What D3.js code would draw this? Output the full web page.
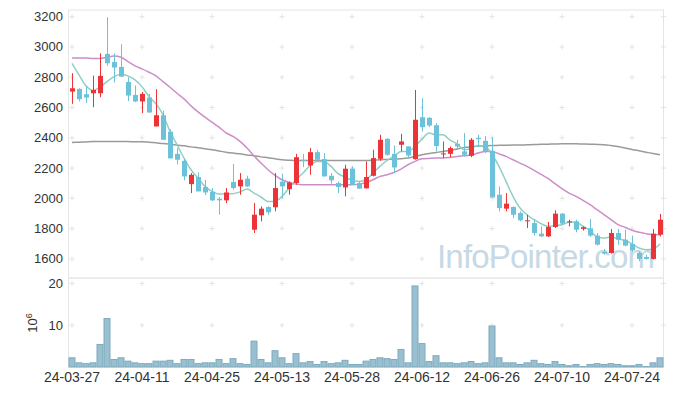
<!DOCTYPE html>
<html>
<head>
<meta charset="utf-8">
<script src="https://cdn.jsdelivr.net/npm/d3@7/dist/d3.min.js"></script>
<style>
  body { margin: 0; background: #fff; }
  svg { display: block; font-family: "Liberation Sans", Arial, sans-serif; }
</style>
</head>
<body>
<svg id="chart" width="673" height="396"></svg>
<script>
// trading days (KRX), 2024-03-27 .. 2024-07-30
const tradingDays = [
  ["03", [27, 28, 29]],
  ["04", [1, 2, 3, 4, 5, 8, 9, 11, 12, 15, 16, 17, 18, 19, 22, 23, 24, 25, 26, 29, 30]],
  ["05", [2, 3, 7, 8, 9, 10, 13, 14, 16, 17, 20, 21, 22, 23, 24, 27, 28, 29, 30, 31]],
  ["06", [3, 4, 5, 7, 10, 11, 12, 13, 14, 17, 18, 19, 20, 21, 24, 25, 26, 27, 28]],
  ["07", [1, 2, 3, 4, 5, 8, 9, 10, 11, 12, 15, 16, 17, 18, 19, 22, 23, 24, 25, 26, 29, 30]]
];
const dates = tradingDays.flatMap(([m, ds]) => ds.map(d => "24-" + m + "-" + String(d).padStart(2, "0")));

const open = [2705,2723,2688,2694,2694,2954,2901,2868,2769,2683,2640,2666,2475,2549,2440,2294,2248,2094,2141,2075,
  2042,1998,1987,2108,2079,2130,1793,1888,1943,1941,2110,2061,2101,2255,2217,2305,2259,2149,2101,2072,
  2196,2101,2066,2149,2261,2393,2294,2354,2343,2259,2536,2532,2483,2290,2294,2360,2310,2281,2400,2380,
  2314,2024,1932,1943,1903,1850,1837,1767,1749,1811,1899,1844,1848,1798,1802,1754,1646,1639,1771,1727,
  1699,1639,1613,1600,1760];
const high = [2826,2727,2743,2811,2958,3196,2958,3018,2800,2745,2703,2690,2721,2580,2457,2332,2259,2167,2171,2123,
  2068,2009,2068,2228,2167,2149,1969,1947,1947,2167,2163,2112,2294,2294,2332,2321,2299,2167,2112,2222,
  2211,2112,2244,2321,2420,2398,2349,2426,2343,2716,2661,2536,2497,2376,2343,2387,2431,2398,2420,2413,
  2404,2079,2035,1947,1914,1892,1864,1815,1844,1921,1903,1859,1859,1815,1864,1771,1666,1798,1798,1793,
  1754,1650,1628,1798,1897];
const low = [2624,2640,2629,2602,2668,2875,2765,2800,2642,2635,2563,2567,2475,2387,2264,2224,2119,2035,2046,2022,
  1982,1892,1969,2057,2024,2075,1771,1848,1892,1914,2002,2024,2090,2206,2156,2244,2145,2097,2035,2013,
  2090,2064,2066,2145,2248,2281,2167,2310,2272,2255,2442,2470,2310,2266,2272,2321,2277,2272,2340,2299,
  2006,1914,1914,1870,1848,1804,1754,1745,1745,1804,1826,1815,1776,1787,1745,1688,1628,1635,1694,1683,
  1646,1585,1596,1596,1749];
const close = [2727,2655,2666,2716,2809,2892,2864,2804,2679,2640,2690,2567,2549,2387,2264,2255,2145,2156,2046,2039,
  1987,1987,2039,2068,2123,2079,1892,1932,1908,2068,2079,2105,2272,2246,2305,2255,2145,2119,2075,2196,
  2090,2064,2141,2266,2387,2288,2204,2376,2283,2519,2470,2481,2345,2297,2332,2343,2288,2387,2391,2310,
  2006,1936,1965,1892,1855,1855,1771,1749,1811,1899,1833,1848,1793,1809,1754,1694,1635,1771,1727,1688,
  1657,1600,1600,1767,1859];

// volume, millions of shares
const volume = [2.2,1.0,0.8,1.0,5.4,11.6,1.8,2.2,1.4,1.0,0.8,0.8,1.4,1.4,1.6,0.8,1.8,1.8,0.8,1.0,
  1.0,1.8,0.8,2.0,0.8,0.6,6.2,1.8,1.0,3.9,2.2,0.8,3.2,1.0,1.3,0.6,1.3,0.8,1.0,1.6,
  0.6,0.6,1.4,1.8,2.2,2.0,1.8,4.2,1.0,19.4,5.6,1.3,2.7,1.0,1.0,0.8,1.0,1.3,0.8,1.0,
  9.8,2.2,1.0,1.0,0.6,1.0,1.6,0.8,0.6,1.3,0.6,0.3,0.6,0.1,0.6,0.8,0.6,0.8,0.6,0.3,
  0.3,0.6,0.1,1.0,2.2];

// moving averages
const ma5 = [2892,2815,2743,2712,2734,2771,2804,2820,2809,2782,2738,2672,2624,2552,2442,2354,2266,2189,2134,2079,
  2046,2028,2030,2031,2042,2061,2035,2009,1980,1980,2013,2068,2123,2167,2217,2244,2244,2211,2163,2141,
  2119,2112,2123,2167,2211,2250,2277,2310,2310,2343,2391,2431,2420,2420,2385,2360,2321,2329,2348,2344,
  2290,2211,2112,2013,1936,1892,1859,1833,1815,1820,1826,1842,1842,1815,1789,1745,1738,1745,1732,1723,
  1699,1672,1661,1666,1699];
const ma20 = [2927,2927,2927,2923,2923,2932,2941,2932,2903,2875,2855,2833,2809,2771,2734,2694,2657,2611,2571,2536,
  2503,2470,2433,2409,2376,2332,2281,2233,2189,2152,2123,2105,2094,2090,2090,2090,2090,2090,2090,2090,
  2090,2094,2105,2123,2145,2156,2171,2193,2222,2244,2261,2264,2266,2266,2270,2277,2281,2286,2299,2310,
  2310,2294,2277,2255,2233,2211,2185,2158,2132,2097,2064,2035,2013,1987,1958,1925,1892,1859,1826,1809,
  1789,1776,1767,1760,1760];
const ma120 = [2369,2371,2373,2375,2376,2376,2376,2375,2375,2374,2374,2371,2367,2362,2358,2352,2347,2340,2334,2327,
  2321,2313,2305,2299,2294,2287,2281,2274,2268,2261,2255,2252,2250,2250,2250,2250,2250,2250,2250,2250,
  2250,2250,2250,2252,2255,2257,2259,2262,2266,2277,2288,2296,2303,2310,2316,2326,2336,2341,2345,2347,
  2349,2350,2351,2352,2352,2354,2355,2357,2358,2359,2360,2360,2360,2359,2358,2356,2354,2349,2343,2333,
  2323,2314,2305,2296,2288];

const priceTicks = [1600, 1800, 2000, 2200, 2400, 2600, 2800, 3000, 3200];
const volTicks = [10, 20];
const dateTickEvery = 10;

const upColor = "#ec3338", downColor = "#6bc2d9";

const svg = d3.select("#chart");
const left = 68.5, right = 663.5;
const pTop = 10, pBottom = 278, vTop = 278, vBottom = 367;

const x = d3.scaleBand().domain(dates).range([left, right]).padding(0);
const cx = d => x(d) + x.bandwidth() / 2;
const y = d3.scaleLinear().domain([1474, 3244]).range([pBottom, pTop]);
const yv = d3.scaleLinear().domain([0, 21.3]).range([vBottom, vTop]);

const tickDates = dates.filter((d, i) => i % dateTickEvery === 0);

// panel frames
svg.append("rect").attr("x", left).attr("y", pTop).attr("width", right - left).attr("height", pBottom - pTop)
  .attr("fill", "none").attr("stroke", "#e6e6e6");
svg.append("rect").attr("x", left).attr("y", vTop).attr("width", right - left).attr("height", vBottom - vTop)
  .attr("fill", "none").attr("stroke", "#e6e6e6");

// "+" grid marks
function crosses(g, xs, ys) {
  xs.forEach(xx => ys.forEach(yy => {
    g.append("path").attr("d", `M${xx - 2.5},${yy}H${xx + 2.5}M${xx},${yy - 2.5}V${yy + 2.5}`)
      .attr("stroke", "#e3e3e3").attr("stroke-width", 1);
  }));
}
const gridX = tickDates.map(cx).concat([right]);
const grid = svg.append("g");
crosses(grid, gridX, priceTicks.map(y));
crosses(grid, gridX, volTicks.map(yv));

// watermark
svg.append("text").attr("x", 437).attr("y", 268).attr("font-size", 33)
  .attr("fill", "#c6d9e4").attr("font-family", "'Liberation Sans', Arial, sans-serif")
  .attr("textLength", 218).text("InfoPointer.com");

// moving averages
const lineFor = arr => d3.line().x((d, i) => cx(dates[i])).y(d => y(d)).curve(d3.curveMonotoneX)(arr);
svg.append("path").attr("d", lineFor(ma120)).attr("fill", "none").attr("stroke", "#9a9a9a").attr("stroke-width", 1.5);
svg.append("path").attr("d", lineFor(ma20)).attr("fill", "none").attr("stroke", "#cc8ec8").attr("stroke-width", 1.5);
svg.append("path").attr("d", lineFor(ma5)).attr("fill", "none").attr("stroke", "#8fcfc5").attr("stroke-width", 1.5);

// candles
const candles = svg.append("g").selectAll("g").data(dates).join("g")
  .attr("fill", (d, i) => close[i] >= open[i] ? upColor : downColor)
  .attr("stroke", (d, i) => close[i] >= open[i] ? upColor : downColor);
candles.append("line")
  .attr("x1", d => Math.round(cx(d)) + 0.5).attr("x2", d => Math.round(cx(d)) + 0.5)
  .attr("y1", (d, i) => y(high[i])).attr("y2", (d, i) => y(low[i]));
candles.append("rect")
  .attr("x", d => Math.round(cx(d)) - 2)
  .attr("width", 5)
  .attr("y", (d, i) => y(Math.max(open[i], close[i])))
  .attr("height", (d, i) => Math.max(1, Math.abs(y(open[i]) - y(close[i]))))
  .attr("stroke", "none");

// volume bars
svg.append("g").selectAll("rect").data(dates).join("rect")
  .attr("x", d => x(d) + 0.5)
  .attr("width", x.bandwidth() - 1)
  .attr("y", (d, i) => yv(volume[i]))
  .attr("height", (d, i) => vBottom - yv(volume[i]))
  .attr("fill", "#98c0d0").attr("stroke", "#7eaabd").attr("stroke-width", 1);

// axes labels
svg.append("g").selectAll("text").data(priceTicks).join("text")
  .attr("x", 63).attr("y", d => y(d) + 4.5).attr("text-anchor", "end")
  .attr("font-size", 13).attr("fill", "#333").text(d => d);
svg.append("g").selectAll("text").data(volTicks).join("text")
  .attr("x", 63).attr("y", d => yv(d) + 4.5).attr("text-anchor", "end")
  .attr("font-size", 13).attr("fill", "#333").text(d => d);
const unit = svg.append("text").attr("transform", "translate(37,323) rotate(-90)")
  .attr("text-anchor", "middle").attr("font-size", 13).attr("fill", "#333");
unit.append("tspan").text("10");
unit.append("tspan").attr("dy", -5).attr("font-size", 9).text("6");

svg.append("g").selectAll("text").data(tickDates).join("text")
  .attr("x", cx).attr("y", 382).attr("text-anchor", "middle")
  .attr("font-size", 14).attr("fill", "#333").text(d => d);
</script>
</body>
</html>
